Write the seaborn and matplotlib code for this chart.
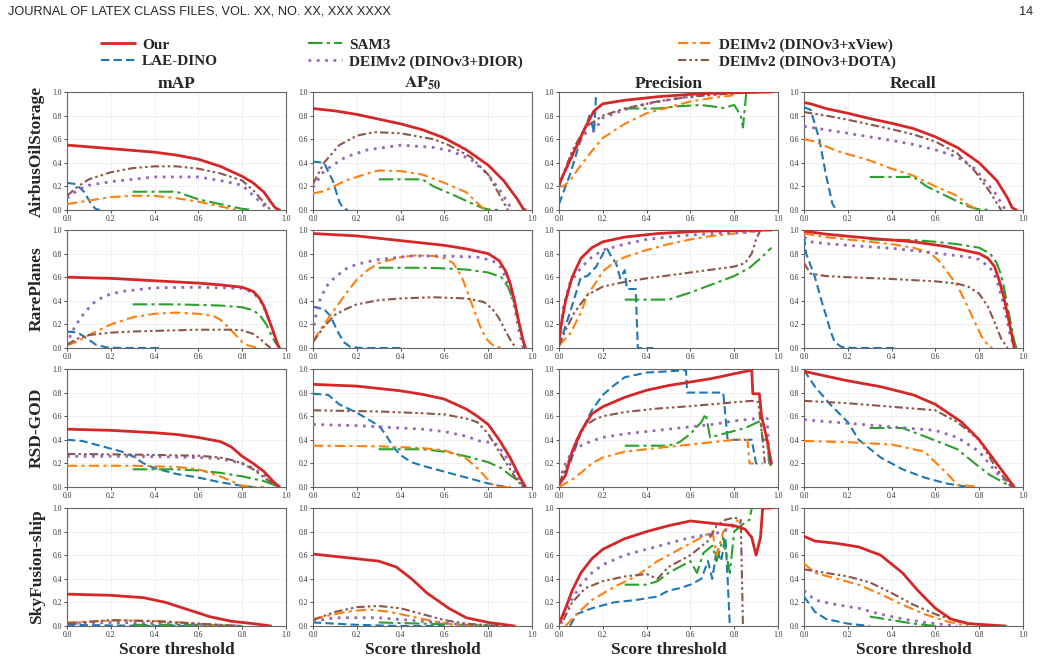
import matplotlib
matplotlib.use("Agg")
import pandas as pd
import matplotlib.pyplot as plt
from matplotlib.lines import Line2D
import seaborn as sns

# ==============================================================================
# 1. DATA
# ==============================================================================
KEYS = ["our", "lae", "sam", "dior", "xview", "dota"]
METHODS = ["Our", "LAE-DINO", "SAM3", "DEIMv2 (DINOv3+DIOR)",
           "DEIMv2 (DINOv3+xView)", "DEIMv2 (DINOv3+DOTA)"]
COLORS = ["#d62728", "#1f77b4", "#2ca02c", "#9467bd", "#ff7f0e", "#8c564b"]
DATASETS = ["AirbusOilStorage", "RarePlanes", "RSD-GOD", "SkyFusion-ship"]
METRICS = ["mAP", r"$\mathbf{AP}_{\mathbf{50}}$", "Precision", "Recall"]
TICKS = [0.0, 0.2, 0.4, 0.6, 0.8, 1.0]

# each curve: [(score threshold, metric value), ...]
AIRBUS_MAP = {
    "our": [(0, .55), (.1, .535), (.2, .52), (.3, .505), (.4, .49), (.5, .465), (.6, .43), (.7, .37),
            (.8, .285), (.85, .23), (.9, .15), (.93, .07), (.95, .02), (.97, 0)],
    "lae": [(0, .23), (.04, .22), (.08, .15), (.11, .05), (.13, .01), (.15, 0)],
    "sam": [(.3, .155), (.5, .155), (.6, .09), (.7, .05), (.8, .01), (.85, 0)],
    "dior": [(0, .1), (.05, .17), (.1, .21), (.2, .24), (.4, .28), (.6, .28), (.7, .25), (.8, .21),
             (.87, .09), (.92, 0)],
    "xview": [(0, .05), (.1, .08), (.2, .11), (.3, .12), (.4, .12), (.5, .1), (.6, .07), (.7, .03), (.78, 0)],
    "dota": [(0, .12), (.05, .2), (.1, .26), (.2, .32), (.3, .355), (.4, .37), (.5, .37), (.6, .35),
             (.7, .31), (.8, .25), (.86, .15), (.9, .06), (.93, 0)],
}
AIRBUS_AP50 = {
    "our": [(0, .86), (.05, .85), (.1, .84), (.2, .81), (.3, .77), (.4, .73), (.5, .68), (.6, .61),
            (.7, .51), (.8, .38), (.87, .25), (.93, .1), (.96, .01), (.97, 0)],
    "lae": [(0, .41), (.05, .4), (.09, .25), (.12, .07), (.14, .01), (.16, 0)],
    "sam": [(.3, .26), (.5, .26), (.55, .2), (.65, .12), (.72, .06), (.77, .02), (.8, .005), (.85, 0)],
    "dior": [(0, .19), (.05, .33), (.15, .45), (.25, .51), (.4, .55), (.55, .53), (.63, .5), (.72, .43),
             (.8, .3), (.86, .15), (.91, 0)],
    "xview": [(0, .14), (.05, .16), (.15, .25), (.25, .31), (.3, .335), (.4, .33), (.5, .3), (.6, .23),
              (.7, .15), (.75, .06), (.78, .01), (.8, 0)],
    "dota": [(0, .22), (.05, .4), (.12, .55), (.2, .63), (.28, .66), (.4, .65), (.55, .6), (.62, .55),
             (.72, .45), (.8, .3), (.86, .1), (.89, 0)],
}
AIRBUS_PREC = {
    "our": [(0, .22), (.07, .5), (.12, .7), (.16, .84), (.2, .9), (.3, .93), (.45, .96), (.6, .98),
            (.7, .99), (.97, 1.0)],
    "lae": [(0, .05), (.05, .3), (.1, .6), (.14, .8), (.16, .66), (.17, 1.0)],
    "sam": [(.3, .86), (.45, .86), (.55, .88), (.65, .89), (.75, .865), (.8, .89), (.83, .8), (.84, .7),
            (.855, .99), (.9, 1.0)],
    "dior": [(0, .2), (.05, .45), (.12, .65), (.16, .67), (.2, .78), (.3, .85), (.4, .9), (.55, .95),
             (.7, .98), (.85, 1.0)],
    "xview": [(0, .2), (.02, .2), (.05, .25), (.1, .38), (.15, .5), (.2, .61), (.3, .73), (.4, .82),
              (.5, .87), (.6, .92), (.7, .95), (.79, .97), (.8, 1.0)],
    "dota": [(0, .2), (.06, .5), (.12, .7), (.2, .8), (.3, .86), (.45, .92), (.6, .96), (.8, .99), (.9, 1.0)],
}
AIRBUS_REC = {
    "our": [(0, .91), (.03, .9), (.1, .86), (.2, .82), (.3, .775), (.4, .735), (.5, .69), (.6, .62),
            (.7, .53), (.8, .4), (.88, .25), (.93, .1), (.95, .02), (.97, 0)],
    "lae": [(0, .87), (.03, .85), (.07, .6), (.1, .3), (.13, .05), (.15, 0)],
    "sam": [(.3, .28), (.5, .28), (.56, .2), (.67, .1), (.75, .03), (.8, .005), (.85, 0)],
    "dior": [(0, .71), (.1, .68), (.2, .65), (.3, .62), (.4, .59), (.5, .555), (.6, .51), (.7, .45),
             (.78, .35), (.87, .15), (.92, 0)],
    "xview": [(0, .6), (.05, .58), (.15, .5), (.3, .42), (.4, .35), (.5, .29), (.6, .2), (.7, .12),
              (.75, .04), (.8, 0)],
    "dota": [(0, .83), (.1, .8), (.2, .765), (.3, .725), (.4, .685), (.5, .64), (.6, .58), (.7, .48),
             (.78, .33), (.85, .15), (.9, 0)],
}

RARE_MAP = {
    "our": [(0, .6), (.2, .59), (.4, .57), (.6, .55), (.7, .535), (.8, .515), (.85, .48), (.88, .42),
            (.9, .35), (.92, .25), (.94, .15), (.96, .04), (.97, 0)],
    "lae": [(0, .14), (.05, .13), (.1, .07), (.13, .03), (.18, .005), (.25, 0), (.43, 0)],
    "sam": [(.3, .37), (.5, .37), (.6, .365), (.7, .36), (.8, .345), (.85, .32), (.88, .28), (.91, .2),
            (.93, .12), (.95, .05), (.97, 0)],
    "dior": [(0, .02), (.02, .13), (.05, .22), (.08, .3), (.12, .38), (.17, .44), (.25, .48), (.4, .51),
             (.6, .515), (.8, .505), (.85, .47), (.88, .41), (.91, .3), (.93, .2), (.95, .08), (.97, 0)],
    "xview": [(0, .02), (.05, .06), (.1, .11), (.2, .2), (.3, .26), (.4, .29), (.5, .3), (.6, .29),
              (.67, .27), (.7, .24), (.74, .17), (.77, .11), (.8, .05), (.83, .02), (.87, 0)],
    "dota": [(0, .03), (.05, .08), (.1, .11), (.2, .13), (.3, .14), (.5, .15), (.6, .155), (.75, .155),
             (.8, .15), (.85, .12), (.88, .08), (.91, .03), (.93, 0)],
}
RARE_AP50 = {
    "our": [(0, .97), (.1, .96), (.2, .95), (.3, .93), (.4, .91), (.5, .89), (.6, .87), (.7, .84),
            (.8, .8), (.85, .74), (.88, .65), (.9, .55), (.92, .4), (.94, .22), (.96, .06), (.97, 0)],
    "lae": [(0, .35), (.05, .33), (.08, .27), (.11, .15), (.14, .05), (.17, .01), (.22, 0), (.42, 0)],
    "sam": [(.3, .68), (.5, .68), (.6, .675), (.7, .665), (.8, .64), (.86, .6), (.89, .52), (.92, .38),
            (.94, .2), (.96, .06), (.97, 0)],
    "dior": [(0, .12), (.01, .25), (.03, .4), (.06, .52), (.1, .6), (.15, .67), (.2, .71), (.3, .75),
             (.45, .78), (.6, .78), (.75, .77), (.82, .74), (.86, .68), (.89, .55), (.92, .35),
             (.94, .15), (.96, 0)],
    "xview": [(0, .06), (.05, .2), (.1, .33), (.15, .46), (.2, .58), (.25, .66), (.3, .72), (.4, .77),
              (.47, .785), (.55, .78), (.6, .76), (.64, .72), (.68, .6), (.71, .45), (.74, .3),
              (.77, .15), (.8, .06), (.83, .01), (.87, 0)],
    "dota": [(0, .05), (.05, .18), (.1, .28), (.15, .33), (.2, .37), (.3, .405), (.4, .42), (.55, .43),
             (.7, .42), (.78, .39), (.82, .33), (.85, .25), (.88, .14), (.91, .04), (.93, 0)],
}
RARE_PREC = {
    "our": [(0, .05), (.01, .2), (.03, .4), (.06, .6), (.1, .76), (.15, .85), (.2, .9), (.3, .94),
            (.45, .97), (.65, .99), (.97, 1.0)],
    "lae": [(0, .02), (.05, .3), (.1, .6), (.13, .61), (.17, .69), (.21, .83), (.22, .84), (.24, .77),
            (.26, .72), (.28, .59), (.3, .66), (.31, .5), (.35, .5), (.36, 0), (.43, 0)],
    "sam": [(.3, .41), (.5, .41), (.6, .47), (.7, .54), (.8, .61), (.87, .68), (.92, .76), (.97, .85)],
    "dior": [(0, .05), (.02, .35), (.05, .55), (.1, .68), (.15, .77), (.2, .83), (.22, .84), (.3, .88),
             (.4, .92), (.55, .95), (.7, .97), (.85, .98), (.92, 1.0)],
    "xview": [(0, .02), (.05, .12), (.1, .3), (.13, .45), (.17, .56), (.2, .65), (.25, .72), (.3, .77),
              (.4, .83), (.5, .88), (.6, .92), (.7, .95), (.8, .97), (.9, .99), (.93, 1.0)],
    "dota": [(0, .02), (.03, .15), (.07, .3), (.13, .45), (.2, .52), (.3, .56), (.4, .59), (.6, .64),
             (.8, .69), (.85, .72), (.88, .8), (.9, .92), (.92, 1.0)],
}
RARE_REC = {
    "our": [(0, .99), (.1, .965), (.3, .93), (.5, .9), (.65, .86), (.75, .82), (.8, .8), (.84, .76),
            (.87, .69), (.89, .58), (.91, .45), (.93, .28), (.95, .1), (.96, 0)],
    "lae": [(0, .94), (.01, .8), (.05, .6), (.08, .4), (.1, .28), (.12, .15), (.14, .05), (.17, .01),
            (.22, 0), (.43, 0)],
    "sam": [(.3, .92), (.5, .915), (.6, .9), (.7, .88), (.8, .85), (.85, .8), (.88, .72), (.9, .62),
            (.92, .45), (.94, .25), (.96, .06), (.97, 0)],
    "dior": [(0, .94), (.03, .9), (.1, .885), (.2, .87), (.4, .845), (.6, .805), (.75, .77), (.8, .75),
             (.85, .68), (.88, .58), (.9, .45), (.92, .3), (.94, .12), (.96, 0)],
    "xview": [(0, .97), (.1, .94), (.2, .92), (.3, .9), (.4, .88), (.5, .85), (.58, .8), (.62, .73),
              (.66, .63), (.7, .53), (.74, .38), (.78, .22), (.81, .1), (.84, .02), (.86, 0)],
    "dota": [(0, .72), (.03, .63), (.1, .61), (.2, .6), (.4, .585), (.6, .565), (.7, .545), (.75, .52),
             (.8, .46), (.84, .35), (.87, .22), (.9, .08), (.93, 0)],
}

RSD_MAP = {
    "our": [(0, .49), (.2, .48), (.4, .46), (.5, .445), (.6, .42), (.7, .385), (.75, .34), (.8, .26),
            (.85, .2), (.9, .13), (.94, .05), (.97, 0)],
    "lae": [(0, .4), (.07, .39), (.15, .35), (.25, .3), (.3, .26), (.35, .2), (.4, .16), (.5, .11),
            (.6, .08), (.7, .04), (.8, .01), (.85, 0)],
    "sam": [(.3, .15), (.5, .15), (.6, .14), (.7, .12), (.8, .09), (.9, .05), (.97, 0)],
    "dior": [(0, .26), (.3, .26), (.6, .25), (.7, .24), (.75, .22), (.8, .2), (.85, .16), (.9, .1),
             (.94, .04), (.97, 0)],
    "xview": [(0, .18), (.3, .18), (.5, .17), (.6, .15), (.65, .12), (.7, .09), (.75, .05), (.8, .01),
              (.85, 0), (.9, 0)],
    "dota": [(0, .28), (.3, .275), (.6, .265), (.7, .25), (.75, .23), (.8, .2), (.85, .15), (.9, .08),
             (.94, .03), (.97, 0)],
}
RSD_AP50 = {
    "our": [(0, .87), (.2, .855), (.4, .815), (.5, .785), (.6, .745), (.7, .66), (.75, .6), (.8, .53),
            (.85, .4), (.9, .25), (.94, .1), (.97, 0)],
    "lae": [(0, .79), (.07, .78), (.12, .7), (.2, .63), (.3, .52), (.33, .45), (.37, .33), (.4, .27),
            (.45, .21), (.5, .18), (.6, .13), (.7, .08), (.8, .03), (.85, .01), (.9, 0)],
    "sam": [(.3, .32), (.5, .32), (.6, .3), (.7, .26), (.8, .21), (.86, .16), (.9, .1), (.94, .05), (.97, 0)],
    "dior": [(0, .53), (.2, .52), (.4, .5), (.5, .49), (.6, .47), (.7, .43), (.76, .39), (.8, .38),
             (.84, .36), (.88, .26), (.91, .16), (.94, .06), (.96, 0)],
    "xview": [(0, .35), (.3, .345), (.5, .33), (.6, .31), (.65, .28), (.7, .24), (.75, .16), (.79, .08),
              (.82, .02), (.85, 0), (.9, 0)],
    "dota": [(0, .65), (.3, .64), (.5, .625), (.6, .615), (.7, .58), (.75, .55), (.8, .45), (.85, .3),
             (.9, .15), (.93, .06), (.96, 0)],
}
RSD_PREC = {
    "our": [(0, .02), (.03, .1), (.06, .3), (.1, .47), (.15, .62), (.2, .68), (.3, .76), (.4, .82),
            (.5, .86), (.6, .89), (.7, .92), (.8, .96), (.88, .99), (.885, .79), (.915, .79), (.925, .6),
            (.95, .4), (.97, .2)],
    "lae": [(0, .02), (.05, .2), (.1, .46), (.15, .65), (.2, .78), (.25, .86), (.3, .93), (.4, .97),
            (.5, .98), (.58, .99), (.585, .8), (.75, .8), (.77, .4), (.88, .4), (.9, .2), (.93, .2)],
    "sam": [(.3, .35), (.5, .35), (.55, .38), (.6, .45), (.65, .55), (.67, .62), (.69, .42), (.75, .45),
            (.85, .5), (.92, .56), (.93, .4), (.95, .4), (.96, .2), (.97, .18)],
    "dior": [(0, .05), (.03, .2), (.06, .3), (.1, .35), (.15, .39), (.2, .42), (.3, .45), (.4, .47),
             (.5, .49), (.6, .51), (.7, .53), (.8, .56), (.9, .58), (.93, .6), (.95, .6), (.96, .2)],
    "xview": [(0, 0), (.05, .05), (.1, .12), (.15, .2), (.2, .25), (.3, .3), (.4, .32), (.5, .34),
              (.6, .36), (.7, .38), (.8, .4), (.86, .4), (.87, .2), (.89, .2)],
    "dota": [(0, .03), (.04, .2), (.08, .4), (.12, .52), (.16, .57), (.2, .6), (.3, .635), (.45, .665),
             (.6, .685), (.75, .71), (.88, .73), (.91, .72), (.92, .55), (.93, .4), (.94, .2)],
}
RSD_REC = {
    "our": [(0, .98), (.1, .94), (.2, .9), (.35, .85), (.5, .78), (.6, .7), (.72, .55), (.8, .4),
            (.88, .2), (.96, 0)],
    "lae": [(0, .99), (.05, .85), (.12, .7), (.2, .55), (.25, .4), (.35, .25), (.45, .15), (.55, .08),
            (.65, .03), (.75, 0)],
    "sam": [(.3, .5), (.45, .5), (.55, .43), (.7, .32), (.78, .2), (.85, .1), (.95, 0)],
    "dior": [(0, .57), (.2, .54), (.4, .51), (.6, .48), (.7, .42), (.8, .3), (.88, .12), (.95, 0)],
    "xview": [(0, .39), (.2, .38), (.4, .36), (.55, .3), (.65, .12), (.7, .02), (.8, 0)],
    "dota": [(0, .73), (.2, .71), (.4, .68), (.6, .65), (.7, .55), (.8, .4), (.88, .15), (.95, 0)],
}

SKY_MAP = {
    "our": [(0, .27), (.2, .26), (.35, .24), (.45, .2), (.55, .14), (.65, .08), (.75, .04), (.85, .02), (.93, 0)],
    "lae": [(0, .01), (.2, .005), (.4, 0), (.6, 0)],
    "sam": [(.3, .01), (.6, .01), (.8, 0)],
    "dior": [(0, .02), (.2, .03), (.5, .02), (.8, 0)],
    "xview": [(0, .03), (.25, .05), (.45, .04), (.6, .02), (.7, 0)],
    "dota": [(0, .02), (.2, .05), (.4, .04), (.6, .02), (.8, 0)],
}
SKY_AP50 = {
    "our": [(0, .61), (.1, .59), (.2, .57), (.3, .55), (.38, .5), (.45, .4), (.52, .28), (.62, .15),
            (.7, .07), (.8, .03), (.92, 0)],
    "lae": [(0, .03), (.1, .02), (.2, .01), (.4, 0), (.6, 0)],
    "sam": [(.3, .03), (.5, .02), (.7, .01), (.85, 0)],
    "dior": [(0, .04), (.1, .07), (.3, .07), (.5, .04), (.7, .01), (.85, 0)],
    "xview": [(0, .06), (.15, .12), (.25, .14), (.35, .12), (.45, .08), (.55, .04), (.65, .01), (.75, 0)],
    "dota": [(0, .05), (.1, .12), (.2, .16), (.3, .17), (.4, .15), (.5, .1), (.6, .05), (.7, .02), (.85, 0)],
}
SKY_PREC = {
    "our": [(0, .02), (.03, .15), (.06, .3), (.1, .45), (.15, .57), (.2, .65), (.3, .74), (.4, .8),
            (.5, .85), (.6, .89), (.65, .88), (.7, .87), (.8, .85), (.85, .82), (.88, .75), (.9, .6),
            (.92, .75), (.93, 1.0), (.97, 1.0)],
    "lae": [(.05, 0), (.08, .1), (.15, .15), (.25, .2), (.35, .22), (.45, .25), (.5, .3), (.55, .32),
            (.6, .35), (.65, .4), (.68, .55), (.7, .4), (.72, .65), (.74, .55), (.76, .75), (.77, .4), (.78, 0)],
    "sam": [(.3, .35), (.4, .35), (.45, .38), (.5, .45), (.55, .5), (.6, .55), (.63, .45), (.66, .62),
            (.7, .68), (.72, .55), (.75, .75), (.78, .45), (.8, .8), (.85, .88), (.87, .9), (.88, 1.0)],
    "dior": [(.01, .02), (.05, .2), (.1, .35), (.15, .45), (.2, .52), (.3, .6), (.4, .65), (.5, .7),
             (.6, .75), (.7, .78), (.75, .8), (.8, .85), (.85, .9)],
    "xview": [(.03, 0), (.08, .1), (.15, .22), (.25, .33), (.35, .42), (.45, .55), (.55, .65), (.6, .7),
              (.65, .75), (.7, .8), (.72, .6), (.75, .8), (.78, .85), (.82, .9)],
    "dota": [(.02, .05), (.06, .2), (.12, .32), (.2, .38), (.3, .42), (.4, .44), (.45, .4), (.5, .5),
             (.6, .6), (.68, .72), (.72, .85), (.76, .9), (.8, .92), (.83, .9), (.84, 0)],
}
SKY_REC = {
    "our": [(0, .76), (.05, .72), (.15, .7), (.25, .67), (.35, .6), (.45, .45), (.52, .3), (.6, .15),
            (.67, .06), (.75, .02), (.92, 0)],
    "lae": [(0, .25), (.05, .12), (.1, .06), (.2, .02), (.3, 0)],
    "sam": [(.3, .08), (.4, .05), (.5, .02), (.6, 0)],
    "dior": [(0, .3), (.05, .22), (.15, .18), (.25, .15), (.35, .1), (.45, .06), (.55, .03), (.7, 0)],
    "xview": [(0, .53), (.05, .45), (.15, .4), (.25, .35), (.35, .27), (.45, .18), (.55, .1), (.65, .04), (.75, 0)],
    "dota": [(0, .48), (.1, .45), (.2, .42), (.3, .37), (.4, .28), (.5, .18), (.6, .1), (.7, .04), (.85, 0)],
}

PANELS = [
    [AIRBUS_MAP, AIRBUS_AP50, AIRBUS_PREC, AIRBUS_REC],
    [RARE_MAP, RARE_AP50, RARE_PREC, RARE_REC],
    [RSD_MAP, RSD_AP50, RSD_PREC, RSD_REC],
    [SKY_MAP, SKY_AP50, SKY_PREC, SKY_REC],
]

# ==============================================================================
# 2. STYLE
# ==============================================================================
STYLES = {
    "our": dict(linestyle="-", linewidth=2.0, zorder=6),
    "lae": dict(linestyle=(0, (4, 2)), linewidth=1.5, zorder=3),
    "sam": dict(linestyle=(0, (7, 2, 1.5, 2)), linewidth=1.5, zorder=3),
    "dior": dict(linestyle=(0, (1, 2)), linewidth=2.0, zorder=4),
    "xview": dict(linestyle=(0, (5, 2, 1.5, 2)), linewidth=1.5, zorder=3),
    "dota": dict(linestyle=(0, (4, 1.5, 1.2, 1.5, 1.2, 1.5)), linewidth=1.5, zorder=5),
}
DRAW_ORDER = ["lae", "sam", "xview", "dior", "dota", "our"]

sns.set_theme(style="whitegrid")
plt.rcParams.update({
    "font.family": ["Liberation Serif", "DejaVu Serif"],
    "mathtext.fontset": "stix",
    "axes.edgecolor": "#666666",
    "axes.linewidth": 0.8,
    "grid.color": "#e3e3e3",
    "grid.linestyle": "--",
    "grid.linewidth": 0.5,
})

W, H = 1045, 662
COL_LEFT = [67, 313, 559, 804]
ROW_TOP = [92, 230, 369, 508]
AX_W, AX_H = 219, 118


def panel_frame(curves):
    rows = []
    for key, pts in curves.items():
        for i, (s, v) in enumerate(pts):
            rows.append({"method": key, "idx": i, "score": s, "value": v})
    return pd.DataFrame(rows)


fig = plt.figure(figsize=(W / 100, H / 100), dpi=100)

for r, dataset in enumerate(DATASETS):
    for c, metric in enumerate(METRICS):
        ax = fig.add_axes([COL_LEFT[c] / W, 1 - (ROW_TOP[r] + AX_H) / H, AX_W / W, AX_H / H])
        df = panel_frame(PANELS[r][c])
        for key in DRAW_ORDER:
            sub = df[df["method"] == key]
            sns.lineplot(data=sub, x="score", y="value", ax=ax, color=COLORS[KEYS.index(key)],
                         estimator=None, sort=False, legend=False, **STYLES[key])
        ax.set_xlim(0, 1)
        ax.set_ylim(0, 1)
        ax.set_xticks(TICKS)
        ax.set_yticks(TICKS)
        ax.set_xticklabels([f"{t:.1f}" for t in TICKS])
        ax.set_yticklabels([f"{t:.1f}" for t in TICKS])
        ax.tick_params(labelsize=5.5, length=2, width=0.6, pad=1.5, colors="#333333",
                       bottom=True, left=True)
        ax.set_ylabel("")
        if r == len(DATASETS) - 1:
            ax.set_xlabel("Score threshold", fontsize=12.5, fontweight="bold", labelpad=2)
        else:
            ax.set_xlabel("")
        if r == 0:
            ax.set_title(metric, fontsize=12.5, fontweight="bold", pad=3)
    fig.text(37 / W, 1 - (ROW_TOP[r] + AX_H / 2) / H, dataset, rotation=90, ha="center",
             va="center", fontsize=12.5, fontweight="bold")

# legend: three columns placed by hand
handles = [Line2D([], [], color=COLORS[i], **{k: v for k, v in STYLES[key].items() if k != "zorder"})
           for i, key in enumerate(KEYS)]
for (a, b), x0 in zip([(0, 2), (2, 4), (4, 6)], [101, 308, 678]):
    fig.legend(handles[a:b], METHODS[a:b], loc="upper left", bbox_to_anchor=(x0 / W, 1 - 38 / H),
               frameon=False, prop={"weight": "bold", "size": 11}, handlelength=2.2,
               handletextpad=0.5, labelspacing=0.2, borderpad=0, borderaxespad=0)

fig.text(8 / W, 1 - 12 / H, "JOURNAL OF LATEX CLASS FILES, VOL. XX, NO. XX, XXX XXXX",
         family="Liberation Sans", fontsize=9.2, va="center", ha="left")
fig.text(1033 / W, 1 - 12 / H, "14", family="Liberation Sans", fontsize=9.2, va="center", ha="right")

fig.savefig("out.png", dpi=100)
